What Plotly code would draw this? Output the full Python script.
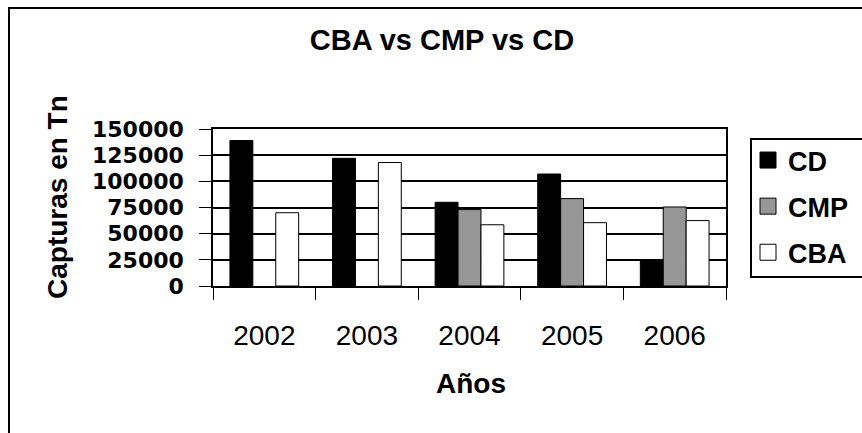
import plotly.graph_objects as go

years = ["2002", "2003", "2004", "2005", "2006"]
cd = [139000, 122000, 80000, 107000, 24500]
cmp_vals = [None, None, 73000, 83500, 75500]
cba = [70000, 118000, 58500, 60500, 62500]

series = [
    ("CD", cd, "#000000"),
    ("CMP", cmp_vals, "#969696"),
    ("CBA", cba, "#ffffff"),
]

FONT = "Arial, Liberation Sans, sans-serif"
W, H = 862, 433
L, R, T, B = 213, 136, 129, 147
pw, ph = W - L - R, H - T - B


def px_x(p):
    return (p - L) / pw


def px_y(p):
    return (H - B - p) / ph


fig = go.Figure()
for name, vals, color in series:
    fig.add_trace(
        go.Bar(
            x=years,
            y=vals,
            name=name,
            legendgroup=name,
            showlegend=False,
            marker={"color": color, "line": {"color": "black", "width": 1}},
        )
    )
    # legend entry with a bigger swatch
    fig.add_trace(
        go.Scatter(
            x=[None],
            y=[None],
            mode="markers",
            name=name,
            legendgroup=name,
            marker={
                "symbol": "square",
                "size": 19,
                "color": color,
                "line": {"color": "black", "width": 1},
            },
        )
    )

fig.update_layout(
    width=W,
    height=H,
    margin={"l": L, "r": R, "t": T, "b": B, "autoexpand": False},
    paper_bgcolor="white",
    plot_bgcolor="white",
    barmode="group",
    bargap=0.33,
    bargroupgap=0,
    font={"family": FONT, "color": "black"},
    title={
        "text": "CBA vs CMP vs CD",
        "font": {"size": 29, "weight": "bold"},
        "x": 442 / W,
        "xanchor": "center",
        "xref": "container",
        "y": 1 - 40 / H,
        "yanchor": "middle",
        "yref": "container",
    },
    legend={
        "x": px_x(748),
        "xanchor": "left",
        "y": px_y(136),
        "yanchor": "top",
        "borderwidth": 0,
        "font": {"size": 27, "weight": "bold"},
        "tracegroupgap": 8,
        "bgcolor": "rgba(0,0,0,0)",
    },
    xaxis={
        "type": "category",
        "tickson": "boundaries",
        "ticks": "outside",
        "ticklen": 12,
        "tickwidth": 1,
        "tickcolor": "black",
        "showline": True,
        "linecolor": "black",
        "linewidth": 1.5,
        "mirror": True,
        "showgrid": False,
        "tickfont": {"size": 28},
        "ticklabelstandoff": 24,
    },
    yaxis={
        "range": [0, 150000],
        "dtick": 25000,
        "tickformat": "d",
        "ticks": "outside",
        "ticklen": 12,
        "tickwidth": 1,
        "tickcolor": "black",
        "showline": True,
        "linecolor": "black",
        "linewidth": 1.5,
        "mirror": True,
        "showgrid": True,
        "gridcolor": "black",
        "gridwidth": 1.5,
        "zeroline": False,
        # wide, short digits like the reference
        "tickfont": {"family": "DejaVu Sans", "size": 22, "weight": "bold"},
        "ticklabelstandoff": 11,
    },
    annotations=[
        {
            "text": "Años",
            "xref": "paper",
            "yref": "paper",
            "x": px_x(471),
            "y": px_y(383),
            "xanchor": "center",
            "yanchor": "middle",
            "showarrow": False,
            "font": {"size": 28, "weight": "bold"},
        },
        {
            "text": "Capturas en Tn",
            "xref": "paper",
            "yref": "paper",
            "x": px_x(57),
            "y": px_y(197),
            "xanchor": "center",
            "yanchor": "middle",
            "textangle": -90,
            "showarrow": False,
            "font": {"size": 28, "weight": "bold"},
        },
    ],
    shapes=[
        # outer chart-area frame, running off the right and bottom edges
        {
            "type": "rect",
            "xref": "paper",
            "yref": "paper",
            "x0": px_x(9),
            "x1": px_x(W + 20),
            "y0": px_y(H + 20),
            "y1": px_y(8),
            "line": {"color": "black", "width": 2},
            "fillcolor": "rgba(0,0,0,0)",
        },
        # legend frame
        {
            "type": "rect",
            "xref": "paper",
            "yref": "paper",
            "x0": px_x(751),
            "x1": px_x(W + 20),
            "y0": px_y(277),
            "y1": px_y(139),
            "line": {"color": "black", "width": 2},
            "fillcolor": "rgba(0,0,0,0)",
        },
    ],
)

# drop the page's default 8px body margin so the figure sits at the corner
fig.write_html(
    "out.html",
    config={"displayModeBar": False},
    post_script="document.body.style.margin = '0';",
)
